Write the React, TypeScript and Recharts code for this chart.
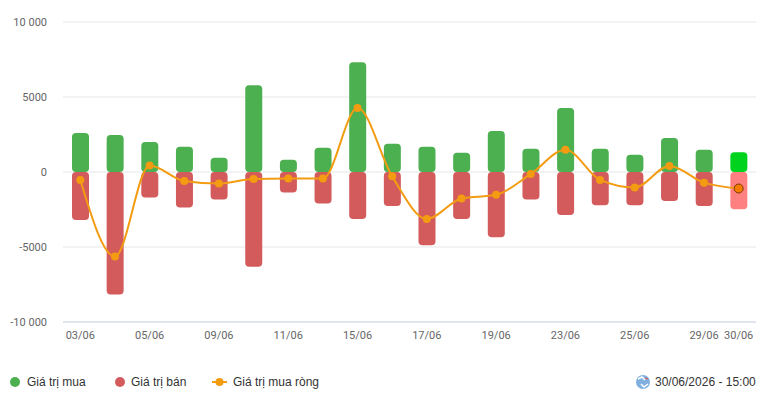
import React from 'react';
import { ComposedChart, Bar, Line, XAxis, YAxis, CartesianGrid, Cell } from 'recharts';

const categories = ['03/06','04/06','05/06','08/06','09/06','10/06','11/06','12/06','15/06','16/06','17/06','18/06','19/06','22/06','23/06','24/06','25/06','26/06','29/06','30/06'];
const buyValues = [2600,2470,2000,1680,950,5780,820,1610,7310,1880,1680,1280,2740,1550,4260,1550,1150,2270,1480,1320];
const sellValues = [-3200,-8170,-1700,-2360,-1830,-6310,-1370,-2100,-3130,-2270,-4880,-3130,-4350,-1830,-2870,-2210,-2210,-1940,-2270,-2490];
const netValues = [-530,-5630,440,-600,-770,-460,-440,-440,4260,-290,-3130,-1770,-1520,-130,1480,-530,-1040,400,-710,-1100];
const yTicks = [-10000, -5000, 0, 5000, 10000];
const legendLabels = ['Giá trị mua', 'Giá trị bán', 'Giá trị mua ròng'];
const timestamp = '30/06/2026 - 15:00';

const data = categories.map((c, i) => ({ cat: c, buy: buyValues[i], sell: sellValues[i], net: netValues[i] }));

const GREEN = '#4caf50';
const RED = '#d35b5b';
const ORANGE = '#f39c12';
const LAST = categories.length - 1;

const fmtY = (v: number) => {
  const a = Math.abs(v);
  const s = a >= 10000 ? a.toString().replace(/\B(?=(\d{3})+(?!\d))/g, ' ') : String(a);
  return v < 0 ? '-' + s : s;
};

const XTick = (props: any) => {
  const { x, y, payload, index } = props;
  if (!(index % 2 === 0 || index === LAST)) return null;
  return (
    <text x={x} y={y} dy={9} textAnchor="middle" fontFamily="Roboto, Arial, sans-serif" fontSize={11} fill="#666">
      {payload.value}
    </text>
  );
};

const NetDot = (props: any) => {
  const { cx, cy, index } = props;
  if (cx == null || cy == null) return null;
  if (index === LAST) {
    return <circle key={`d${index}`} cx={cx} cy={cy} r={4.5} fill="#f57c00" stroke="#7a3a00" strokeWidth={1} />;
  }
  return <circle key={`d${index}`} cx={cx} cy={cy} r={4} fill={ORANGE} stroke="none" />;
};

const legendText: React.CSSProperties = {
  position: 'absolute',
  top: 375,
  fontFamily: 'Arial, "Liberation Sans", sans-serif',
  fontSize: 12,
  color: '#333',
  lineHeight: '14px',
  whiteSpace: 'nowrap',
};

export default function App() {
  return (
    <div style={{ position: 'absolute', left: 0, top: 0, width: 770, height: 404, background: '#fff' }}>
      <ComposedChart
        width={770}
        height={350}
        data={data}
        stackOffset="sign"
        margin={{ top: 22, right: 14, bottom: 0, left: 0 }}
      >
        <CartesianGrid vertical={false} stroke="#e6e6e6" />
        <XAxis
          dataKey="cat"
          interval={0}
          tick={<XTick />}
          tickLine={false}
          axisLine={{ stroke: '#ccd6eb' }}
          height={28}
        />
        <YAxis
          domain={[-10000, 10000]}
          ticks={yTicks}
          tickFormatter={fmtY}
          axisLine={false}
          tickLine={false}
          tickMargin={10}
          width={63}
          tick={{ fontFamily: 'Roboto, Arial, sans-serif', fontSize: 11, fill: '#666' }}
        />
        <Bar dataKey="buy" stackId="a" barSize={17} radius={4} isAnimationActive={false}>
          {data.map((d, i) => (
            <Cell key={`b${i}`} fill={i === LAST ? '#00d31e' : GREEN} />
          ))}
        </Bar>
        <Bar dataKey="sell" stackId="a" barSize={17} radius={4} isAnimationActive={false}>
          {data.map((d, i) => (
            <Cell key={`s${i}`} fill={i === LAST ? '#ff8080' : RED} />
          ))}
        </Bar>
        <Line
          dataKey="net"
          type="monotone"
          stroke={ORANGE}
          strokeWidth={2}
          dot={<NetDot />}
          activeDot={false}
          isAnimationActive={false}
        />
      </ComposedChart>

      <svg style={{ position: 'absolute', left: 0, top: 370 }} width={770} height={24}>
        <circle cx={15} cy={12} r={5} fill={GREEN} />
        <circle cx={120} cy={12} r={5} fill={RED} />
        <line x1={212} y1={12} x2={227} y2={12} stroke={ORANGE} strokeWidth={2} />
        <circle cx={219.5} cy={12} r={4} fill={ORANGE} />
        <circle cx={643} cy={12} r={7} fill="#7fb0e0" />
        <path d="M638 9 l4 -2 l3 3 M648 14 l-4 3 l-3 -3" stroke="#fff" strokeWidth={1.5} fill="none" />
        <path d="M645 8 l3 1" stroke="#e05050" strokeWidth={1.2} fill="none" />
      </svg>
      <span style={{ ...legendText, left: 27 }}>{legendLabels[0]}</span>
      <span style={{ ...legendText, left: 131 }}>{legendLabels[1]}</span>
      <span style={{ ...legendText, left: 233 }}>{legendLabels[2]}</span>
      <span style={{ ...legendText, left: 655 }}>{timestamp}</span>
    </div>
  );
}
